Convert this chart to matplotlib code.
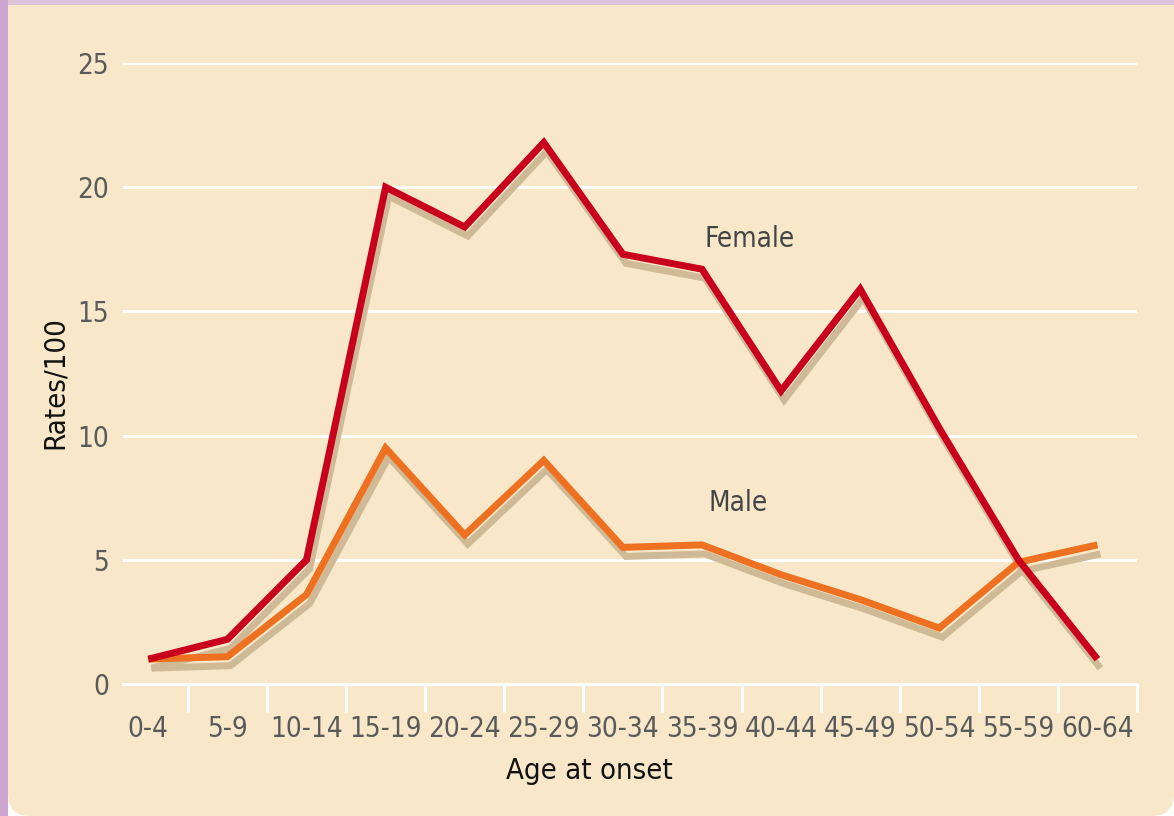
import matplotlib
matplotlib.use("Agg")
import matplotlib.pyplot as plt
import matplotlib.transforms as mtransforms
from matplotlib.patches import FancyBboxPatch, Rectangle
from matplotlib import font_manager

age_groups = ["0-4", "5-9", "10-14", "15-19", "20-24", "25-29", "30-34",
              "35-39", "40-44", "45-49", "50-54", "55-59", "60-64"]
female = [1.0, 1.8, 5.0, 20.0, 18.4, 21.8, 17.3, 16.7, 11.8, 15.9, 10.3, 5.0, 1.0]
male = [1.0, 1.1, 3.6, 9.5, 6.0, 9.0, 5.5, 5.6, 4.4, 3.4, 2.25, 4.9, 5.6]
y_ticks = [0, 5, 10, 15, 20, 25]

# pick a narrow font if one is installed
names = {f.name for f in font_manager.fontManager.ttflist}
if "Liberation Sans Narrow" in names:
    plt.rcParams["font.family"] = "Liberation Sans Narrow"
else:
    plt.rcParams["font.family"] = "DejaVu Sans"
    plt.rcParams["font.stretch"] = "condensed"

BEIGE = "#F8E8C9"
SHADOW = "#CFBA98"
RED = "#C8001C"
ORANGE = "#EE7021"
GREY = "#5A5A5A"

fig = plt.figure(figsize=(11.74, 8.16), dpi=100)
fig.patch.set_facecolor("white")

# background panel with rounded bottom corners, purple strips on top and left
fig.patches.append(FancyBboxPatch((0.08, 0.0), 11.66, 8.6,
                                  boxstyle="round,pad=0,rounding_size=0.22",
                                  transform=fig.dpi_scale_trans,
                                  facecolor=BEIGE, edgecolor="none", zorder=-3))
fig.patches.append(Rectangle((0, 8.11), 11.74, 0.05, transform=fig.dpi_scale_trans,
                             facecolor="#DCC4DD", edgecolor="none", zorder=-2))
fig.patches.append(Rectangle((0, 0), 0.08, 8.16, transform=fig.dpi_scale_trans,
                             facecolor="#CBA5D0", edgecolor="none", zorder=-2))

ax = fig.add_axes([123 / 1174, 132 / 816, 1014 / 1174, 621 / 816])
ax.set_zorder(2)
ax.set_facecolor("none")
x = list(range(len(age_groups)))

shift = mtransforms.ScaledTranslation(2.2 / 72, -6.5 / 72, fig.dpi_scale_trans)
for vals in [male, female]:
    ax.plot(x, vals, color=SHADOW, lw=5, solid_joinstyle="miter",
            solid_capstyle="butt", zorder=2, clip_on=False,
            transform=ax.transData + shift)
for vals, col, z in [(male, ORANGE, 3), (female, RED, 4)]:
    ax.plot(x, vals, color=col, lw=5, solid_joinstyle="miter",
            solid_capstyle="butt", zorder=z, clip_on=False)

ax.set_xlim(-0.32, 12.5)
ax.set_ylim(0, 25)
ax.set_yticks(y_ticks)
ax.set_yticklabels([str(t) for t in y_ticks])
ax.set_xticks(x)
ax.set_xticklabels(age_groups)
ax.set_xticks([i + 0.5 for i in x], minor=True)

ax.tick_params(axis="y", length=0, pad=10, labelsize=20, labelcolor=GREY)
ax.tick_params(axis="x", which="major", length=0, pad=22, labelsize=20, labelcolor=GREY)
ax.tick_params(axis="x", which="minor", length=20, width=2.2, color="white", direction="out")

for s in ["top", "right", "left"]:
    ax.spines[s].set_visible(False)
ax.spines["bottom"].set_color("white")
ax.spines["bottom"].set_linewidth(2.2)
ax.spines["bottom"].set_zorder(1)

ax.grid(axis="y", color="white", lw=2.2, zorder=1)
ax.set_axisbelow(True)

ax.text(7.6, 17.9, "Female", fontsize=20, color="#444444", ha="center", va="center")
ax.text(7.46, 7.3, "Male", fontsize=20, color="#444444", ha="center", va="center")

ax.set_xlabel("Age at onset", fontsize=21, color="#111111")
ax.xaxis.set_label_coords(0.46, -0.118)
ax.set_ylabel("Rates/100", fontsize=21, color="#111111")
ax.yaxis.set_label_coords(-0.053, 0.485)

fig.savefig("out.png", dpi=100, facecolor=fig.get_facecolor())
